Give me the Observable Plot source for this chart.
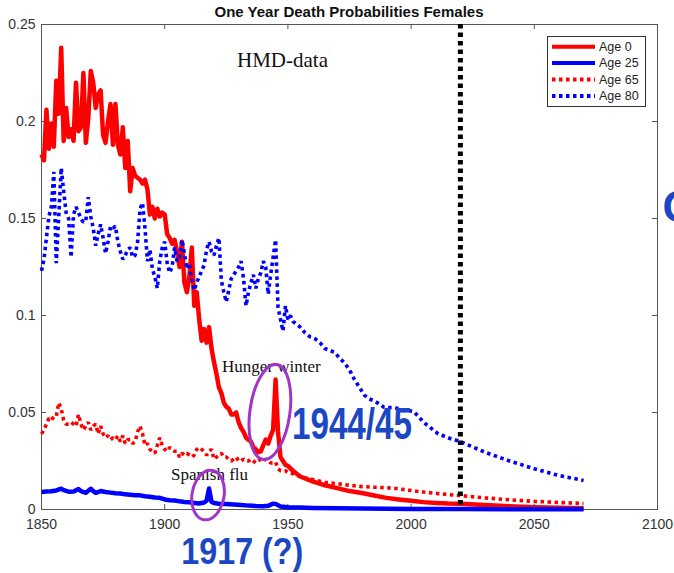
<!DOCTYPE html>
<html><head><meta charset="utf-8">
<script src="https://cdn.jsdelivr.net/npm/d3@7"></script>
<script src="https://cdn.jsdelivr.net/npm/@observablehq/plot@0.6"></script>
<style>
body{margin:0;background:#fff;overflow:hidden}
#wrap{position:relative;width:674px;height:573px;overflow:hidden}
#title{position:absolute;left:41px;width:616px;top:3px;text-align:center;font:bold 15px "Liberation Sans",Arial,sans-serif;color:#111;z-index:2}
#legend{position:absolute;left:547px;top:36px;z-index:2}
</style></head><body><div id="wrap"><div id="title">One Year Death Probabilities Females</div></div>
<script>
// ---- data (year, one-year death probability) ----
const age0 = [[1850,0.183],[1851,0.180],[1852,0.206],[1853,0.186],[1854,0.199],[1855,0.187],[1856,0.221],[1857,0.204],[1858,0.238],[1859,0.190],[1860,0.207],[1861,0.192],[1862,0.196],[1863,0.190],[1864,0.220],[1865,0.195],[1866,0.197],[1867,0.225],[1868,0.189],[1869,0.202],[1870,0.226],[1871,0.220],[1872,0.207],[1873,0.214],[1874,0.216],[1875,0.193],[1876,0.189],[1877,0.200],[1878,0.209],[1879,0.188],[1880,0.209],[1881,0.188],[1882,0.183],[1883,0.197],[1884,0.176],[1885,0.190],[1886,0.164],[1887,0.176],[1888,0.172],[1889,0.171],[1890,0.170],[1891,0.168],[1892,0.170],[1893,0.165],[1894,0.152],[1895,0.156],[1896,0.150],[1897,0.155],[1898,0.151],[1899,0.153],[1900,0.152],[1901,0.142],[1902,0.140],[1903,0.137],[1904,0.139],[1905,0.133],[1906,0.125],[1907,0.138],[1908,0.117],[1909,0.112],[1910,0.120],[1911,0.135],[1912,0.105],[1913,0.112],[1914,0.098],[1915,0.087],[1916,0.093],[1917,0.086],[1918,0.094],[1919,0.083],[1920,0.076],[1921,0.070],[1922,0.063],[1923,0.060],[1924,0.055],[1925,0.053],[1926,0.052],[1927,0.049],[1928,0.049],[1929,0.050],[1930,0.045],[1931,0.042],[1932,0.040],[1933,0.037],[1934,0.036],[1935,0.035],[1936,0.032],[1937,0.031],[1938,0.0295],[1939,0.030],[1940,0.033],[1941,0.036],[1942,0.034],[1943,0.038],[1944,0.041],[1945,0.067],[1946,0.040],[1947,0.027],[1948,0.025],[1949,0.023],[1950,0.0225],[1952,0.020],[1955,0.017],[1960,0.0145],[1965,0.0125],[1970,0.011],[1975,0.0095],[1980,0.0085],[1985,0.0072],[1990,0.006],[1995,0.0052],[2000,0.0045],[2005,0.0038],[2010,0.0034],[2015,0.0031],[2020,0.003],[2030,0.0023],[2040,0.0017],[2050,0.0012],[2060,0.0009],[2070,0.0006]];

const age25 = [[1850,0.009],[1852,0.0093],[1854,0.0094],[1856,0.0098],[1858,0.0107],[1859,0.0100],[1861,0.0092],[1863,0.0093],[1865,0.0105],[1866,0.0095],[1868,0.0086],[1870,0.0107],[1871,0.0095],[1872,0.0086],[1874,0.0095],[1876,0.009],[1878,0.0087],[1880,0.0084],[1882,0.0082],[1884,0.0078],[1886,0.0076],[1888,0.0074],[1890,0.0073],[1892,0.0068],[1894,0.0066],[1896,0.0062],[1898,0.0060],[1900,0.0052],[1902,0.0048],[1904,0.0046],[1906,0.0042],[1908,0.0039],[1910,0.0037],[1912,0.0034],[1914,0.0031],[1916,0.0036],[1917,0.0045],[1918,0.0108],[1919,0.0040],[1920,0.0033],[1922,0.0030],[1925,0.0028],[1928,0.0026],[1931,0.0023],[1934,0.0020],[1937,0.0018],[1940,0.0017],[1942,0.0019],[1944,0.0030],[1945,0.0029],[1947,0.0015],[1950,0.0012],[1955,0.0010],[1960,0.0008],[1970,0.0006],[1980,0.0005],[1990,0.0004],[2000,0.0003],[2010,0.00025],[2020,0.0002],[2070,0.0001]];

const age65 = [[1850,0.039],[1851,0.041],[1852,0.044],[1853,0.047],[1854,0.046],[1855,0.048],[1856,0.048],[1857,0.055],[1858,0.052],[1859,0.046],[1860,0.044],[1861,0.044],[1862,0.045],[1863,0.044],[1864,0.043],[1865,0.049],[1866,0.044],[1867,0.041],[1868,0.043],[1869,0.045],[1870,0.041],[1871,0.043],[1872,0.044],[1873,0.039],[1874,0.043],[1875,0.039],[1876,0.037],[1877,0.038],[1878,0.036],[1879,0.037],[1880,0.036],[1881,0.038],[1882,0.035],[1883,0.038],[1884,0.034],[1885,0.036],[1886,0.036],[1887,0.034],[1888,0.035],[1889,0.040],[1890,0.043],[1891,0.039],[1892,0.033],[1893,0.034],[1894,0.031],[1895,0.030],[1896,0.029],[1897,0.033],[1898,0.037],[1899,0.033],[1900,0.031],[1901,0.030],[1902,0.032],[1903,0.031],[1904,0.030],[1905,0.030],[1906,0.027],[1907,0.029],[1908,0.028],[1909,0.029],[1910,0.028],[1911,0.027],[1912,0.028],[1913,0.031],[1914,0.032],[1915,0.031],[1916,0.030],[1917,0.028],[1918,0.030],[1919,0.031],[1920,0.026],[1921,0.027],[1922,0.028],[1923,0.029],[1924,0.027],[1925,0.027],[1926,0.026],[1927,0.025],[1928,0.026],[1929,0.027],[1930,0.025],[1931,0.025],[1932,0.026],[1933,0.025],[1934,0.025],[1935,0.026],[1936,0.025],[1937,0.024],[1938,0.025],[1939,0.026],[1940,0.025],[1941,0.026],[1942,0.025],[1943,0.024],[1944,0.024],[1945,0.0245],[1946,0.021],[1947,0.020],[1948,0.020],[1949,0.020],[1950,0.019],[1952,0.0185],[1955,0.017],[1958,0.016],[1960,0.0155],[1965,0.014],[1970,0.0133],[1975,0.0125],[1980,0.0118],[1985,0.0115],[1990,0.0112],[1994,0.0108],[2000,0.0098],[2005,0.009],[2010,0.0083],[2015,0.0077],[2020,0.0072],[2030,0.006],[2040,0.005],[2050,0.0042],[2060,0.0036],[2070,0.0031]];

const age80 = [[1850,0.123],[1851,0.129],[1852,0.140],[1853,0.151],[1854,0.156],[1855,0.174],[1856,0.127],[1857,0.151],[1858,0.176],[1859,0.164],[1860,0.153],[1861,0.150],[1862,0.130],[1863,0.152],[1864,0.156],[1865,0.153],[1866,0.150],[1867,0.148],[1868,0.149],[1869,0.161],[1870,0.151],[1871,0.145],[1872,0.136],[1873,0.142],[1874,0.147],[1875,0.140],[1876,0.132],[1877,0.138],[1878,0.146],[1879,0.145],[1880,0.146],[1881,0.138],[1882,0.133],[1883,0.129],[1884,0.131],[1885,0.134],[1886,0.135],[1887,0.130],[1888,0.131],[1889,0.138],[1890,0.155],[1891,0.158],[1892,0.145],[1893,0.128],[1894,0.134],[1895,0.124],[1896,0.120],[1897,0.114],[1898,0.128],[1899,0.135],[1900,0.138],[1901,0.127],[1902,0.122],[1903,0.125],[1904,0.135],[1905,0.128],[1906,0.130],[1907,0.139],[1908,0.132],[1909,0.124],[1910,0.127],[1911,0.118],[1912,0.113],[1913,0.117],[1914,0.120],[1915,0.123],[1916,0.126],[1917,0.134],[1918,0.138],[1919,0.133],[1920,0.131],[1921,0.136],[1922,0.140],[1923,0.118],[1924,0.112],[1925,0.107],[1926,0.113],[1927,0.119],[1928,0.121],[1929,0.123],[1930,0.125],[1931,0.128],[1932,0.119],[1933,0.105],[1934,0.112],[1935,0.117],[1936,0.121],[1937,0.114],[1938,0.119],[1939,0.122],[1940,0.128],[1941,0.125],[1942,0.111],[1943,0.121],[1944,0.130],[1945,0.139],[1946,0.104],[1947,0.098],[1948,0.092],[1949,0.105],[1950,0.098],[1951,0.100],[1952,0.097],[1953,0.096],[1955,0.094],[1957,0.091],[1959,0.089],[1961,0.088],[1963,0.086],[1965,0.083],[1967,0.082],[1969,0.081],[1971,0.078],[1973,0.0755],[1975,0.072],[1977,0.067],[1979,0.063],[1981,0.059],[1983,0.057],[1985,0.056],[1987,0.0545],[1989,0.0527],[1991,0.0525],[1993,0.0525],[1995,0.052],[1997,0.051],[1999,0.051],[2001,0.0505],[2003,0.048],[2005,0.045],[2007,0.043],[2009,0.041],[2011,0.039],[2013,0.038],[2015,0.037],[2017,0.036],[2019,0.0355],[2020,0.035],[2030,0.0295],[2040,0.025],[2050,0.021],[2060,0.0175],[2070,0.015]];

const seriesNames = ["Age 0", "Age 25", "Age 65", "Age 80"];
const xTicks = [1850, 1900, 1950, 2000, 2050, 2100];
const yTicks = [0, 0.05, 0.1, 0.15, 0.2, 0.25];
const nowYear = [2020];
const printedNotes = [
  {label: "HMD-data", year: 1947.8, value: 0.2314},
  {label: "Hunger winter", year: 1943.3, value: 0.0737},
  {label: "Spanish flu", year: 1918.2, value: 0.0178}
];
const handNotes = [
  {label: "1944/45", year: 1976.0, value: 0.0438},
  {label: "1917 (?)", year: 1931.5, value: -0.0218},
  {label: "C", year: 2108.5, value: 0.1557}
];
const circled = [
  {year: 1942.9, value: 0.0500},
  {year: 1917.8, value: 0.0072}
];

// ---- styles ----
const RED = "#ff0000", BLUE = "#0000ff";
const seriesStyle = [
  {data: age0, stroke: RED, dash: null},
  {data: age25, stroke: BLUE, dash: null},
  {data: age65, stroke: RED, dash: "3.5,3.5"},
  {data: age80, stroke: BLUE, dash: "3.5,3.5"}
];
const hand = "#1c47c4";
const serif = '"Liberation Serif","Times New Roman",serif';
const handSize = {"1944/45": 44, "1917 (?)": 37, "C": 44};
const handWidth = {"1944/45": 120, "1917 (?)": 122};

const lineMarks = seriesStyle.map(s => Plot.line(s.data, {
  x: d => d[0], y: d => d[1], stroke: s.stroke,
  strokeWidth: s.dash ? 3.6 : 4.5, strokeDasharray: s.dash ?? undefined,
  strokeLinecap: "butt", strokeLinejoin: s.dash ? "miter" : "round"
}));

const plot = Plot.plot({
  width: 674, height: 573,
  marginLeft: 41, marginRight: 17, marginTop: 24, marginBottom: 64,
  x: {domain: [1850, 2100], label: null},
  y: {domain: [0, 0.25], label: null},
  style: {background: "white", fontFamily: '"Liberation Sans",Arial,sans-serif', fontSize: "14px", color: "#333", overflow: "visible"},
  marks: [
    Plot.frame({stroke: "#555", strokeWidth: 1}),
    Plot.tickX(xTicks, {x: d => d, insetTop: 480, stroke: "#555"}),
    Plot.tickX(xTicks, {x: d => d, insetBottom: 480, stroke: "#555"}),
    Plot.tickY(yTicks, {y: d => d, insetRight: 611, stroke: "#555"}),
    Plot.tickY(yTicks, {y: d => d, insetLeft: 611, stroke: "#555"}),
    Plot.axisX({ticks: xTicks, tickSize: 0, tickPadding: 10, tickFormat: d => String(d), fontSize: 14, fill: "#333"}),
    Plot.axisY({ticks: yTicks, tickSize: 0, tickPadding: 6, tickFormat: d => String(d), fontSize: 14, fill: "#333"}),
    ...lineMarks,
    Plot.ruleX(nowYear, {x: d => d, stroke: "black", strokeWidth: 5, strokeDasharray: "4.5,4"}),
    Plot.text(printedNotes.slice(0, 1), {x: "year", y: "value", text: "label", fontFamily: serif, fontSize: 21, fill: "#111"}),
    Plot.text(printedNotes.slice(1), {x: "year", y: "value", text: "label", fontFamily: serif, fontSize: 17, fill: "#111"}),
    ...handNotes.map(n => Plot.text([n], {x: "year", y: "value", text: "label", fontFamily: '"Liberation Sans",Arial,sans-serif', fontWeight: "bold", fontSize: handSize[n.label], fill: hand}))
  ]
});

const svg = plot.tagName.toLowerCase() === "svg" ? plot : plot.querySelector("svg");
// squeeze the hand-written notes horizontally (narrow marker handwriting)
svg.querySelectorAll("text").forEach(t => {
  const w = handWidth[t.textContent];
  if (w) { t.setAttribute("textLength", w); t.setAttribute("lengthAdjust", "spacingAndGlyphs"); }
});
// hand-drawn purple circles around the two spikes, positioned through Plot's scales
const sx = plot.scale("x"), sy = plot.scale("y");
const ns = "http://www.w3.org/2000/svg";
const ellipseSize = [[20, 48, 8], [16, 25, 10]];
circled.forEach((c, i) => {
  const cx = sx.apply(c.year), cy = sy.apply(c.value);
  const [rx, ry, rot] = ellipseSize[i];
  const el = document.createElementNS(ns, "ellipse");
  el.setAttribute("cx", cx); el.setAttribute("cy", cy);
  el.setAttribute("rx", rx); el.setAttribute("ry", ry);
  el.setAttribute("transform", `rotate(${rot} ${cx} ${cy})`);
  el.setAttribute("fill", "none"); el.setAttribute("stroke", "#a035c8"); el.setAttribute("stroke-width", 3);
  svg.appendChild(el);
});
document.getElementById("wrap").appendChild(plot);

// legend box (inside plot area, top-right)
const lg = d3.select("#wrap").append("svg").attr("id", "legend").attr("width", 100).attr("height", 72);
lg.append("rect").attr("x", 0.5).attr("y", 0.5).attr("width", 98).attr("height", 70).attr("fill", "white").attr("stroke", "#333");
const rowY = [10.7, 27, 43.5, 60];
seriesNames.forEach((name, i) => {
  const s = seriesStyle[i];
  lg.append("line").attr("x1", 5).attr("x2", 48).attr("y1", rowY[i]).attr("y2", rowY[i])
    .attr("stroke", s.stroke).attr("stroke-width", 4).attr("stroke-dasharray", s.dash);
  lg.append("text").attr("x", 52).attr("y", rowY[i]).attr("dy", "0.35em")
    .attr("font-family", '"Liberation Sans",Arial,sans-serif').attr("font-size", 12.5).attr("fill", "#222").text(name);
});
</script>
</body></html>
